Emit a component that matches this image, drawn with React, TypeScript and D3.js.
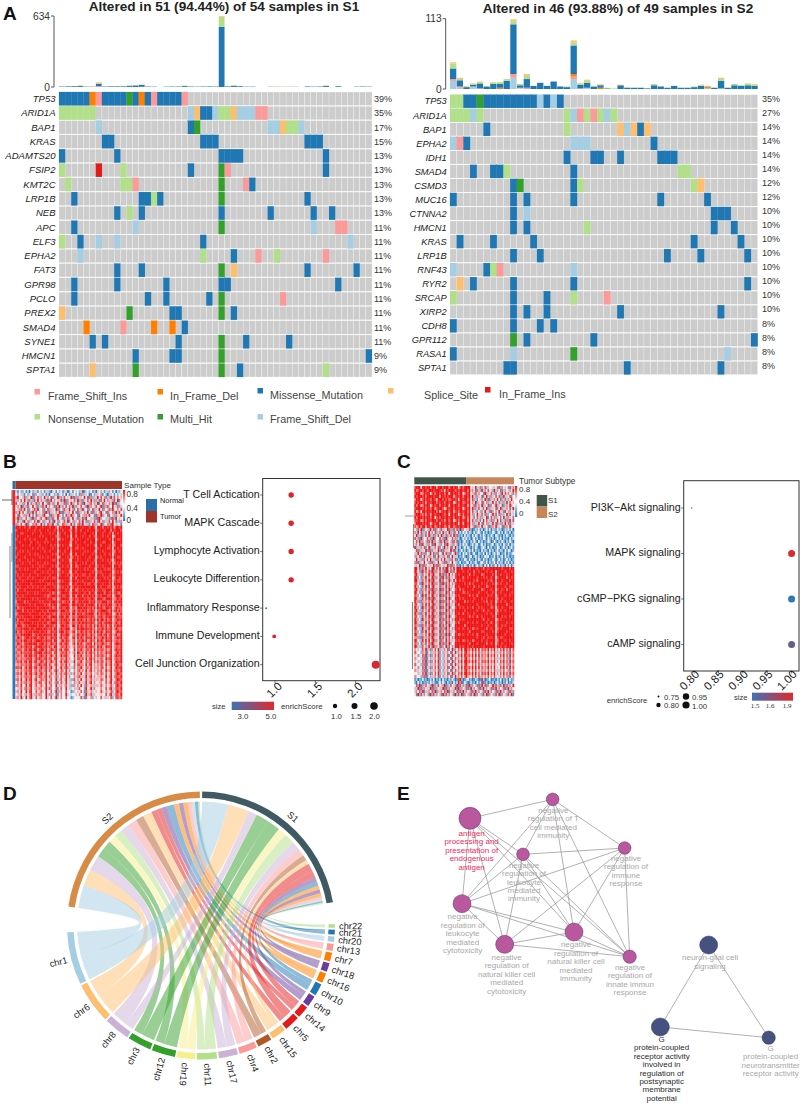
import React from "react";
import * as d3 from "d3";

const FONT = "'Liberation Sans', Arial, sans-serif";

// panel A: oncoprint
const mutColors: Record<string, string> = {
  P: "#fb9a99", O: "#ff7f00", M: "#1f78b4", S: "#fdbf6f",
  R: "#e31a1c", N: "#b2df8a", U: "#33a02c", F: "#a6cee3",
};
const legendRowOne = ["P", "O", "M", "S", "R"];
const legendRowTwo = ["N", "U", "F"];
const legendNames: Record<string, string> = {
  P: "Frame_Shift_Ins", O: "In_Frame_Del", M: "Missense_Mutation", S: "Splice_Site",
  R: "In_Frame_Ins", N: "Nonsense_Mutation", U: "Multi_Hit", F: "Frame_Shift_Del",
};

const s1Genes = ["TP53", "ARID1A", "BAP1", "KRAS", "ADAMTS20", "FSIP2", "KMT2C", "LRP1B", "NEB", "APC", "ELF3", "EPHA2", "FAT3", "GPR98", "PCLO", "PREX2", "SMAD4", "SYNE1", "HMCN1", "SPTA1"];
const s1Pct = ["39%", "35%", "17%", "15%", "13%", "13%", "13%", "13%", "13%", "11%", "11%", "11%", "11%", "11%", "11%", "11%", "11%", "11%", "9%", "9%"];
const s1Muts = [
  "M0-4 O5 P6 M7-10 U11 M12 O13 M14 P15 M16-19 P20",
  "N0-5 F21 S22 M23-24 F25 N26-27 S28 F29-31 P32-33",
  "F6 M21 U22 F34-35 S36 N37-38 F39",
  "M7-8 M23-25 M40-42",
  "M0 M9 M26-29 M43",
  "N0 R6 N10 M21 U26 P27 M43",
  "N1 N10-11 P12 U26 P30 M31",
  "M2 M13-14 N15 M16 U26 M40",
  "M9 N11 M13 M26 M34 M41 M44",
  "M2 F12 U26 F41 P45-46",
  "N0 M3 F6 F9 M23 F47",
  "F3 N23 M28 P32 N35 P43",
  "M9 M13 U26 S28 M40 M48",
  "M2 M9 M17 M26-27 M45",
  "M2 M14 M17 M24 U26 P36",
  "S0 U11 M18-19 U26 M28",
  "O4 P10 O15 O18 M20",
  "M5 M7 M19 U26 M30 M37",
  "M12 M18-19 U26 M50",
  "S5 U12 U26 M29 N43",
];
const s1Missense = [4, 6, 7, 9, 3, 3, 20, 4, 6, 6, 6, 10, 14, 16, 4, 3, 0, 3, 4, 4, 8, 4, 3, 4, 5, 4, 538, 6, 10, 7, 3, 3, 0, 0, 2, 1, 1, 1, 1, 0, 5, 3, 4, 8, 0, 7, 0, 0, 3, 4, 3];
const s1Nonsense = [1, 2, 1, 3, 1, 1, 8, 1, 2, 2, 1, 2, 3, 3, 1, 1, 0, 1, 1, 1, 3, 1, 1, 1, 2, 1, 89, 2, 3, 1, 1, 1, 0, 0, 1, 2, 1, 1, 2, 0, 1, 1, 1, 3, 0, 1, 0, 0, 1, 1, 1];
const s1FsIns = [0, 0, 0, 1, 0, 0, 8, 0, 0, 0, 0, 1, 0, 2, 0, 0, 0, 0, 0, 0, 0, 0, 0, 0, 0, 0, 0, 0, 1, 0, 0, 0, 0, 0, 0, 0, 0, 0, 0, 0, 0, 0, 0, 1, 0, 0, 0, 0, 0, 0, 0];
const s1Splice = [0, 0, 0, 1, 0, 0, 6, 0, 0, 0, 0, 0, 1, 1, 0, 0, 0, 0, 0, 0, 1, 0, 0, 0, 0, 0, 7, 1, 2, 0, 0, 0, 0, 0, 0, 2, 1, 2, 1, 0, 0, 0, 0, 3, 0, 0, 0, 0, 0, 0, 0];

const s2Genes = ["TP53", "ARID1A", "BAP1", "EPHA2", "IDH1", "SMAD4", "CSMD3", "MUC16", "CTNNA2", "HMCN1", "KRAS", "LRP1B", "RNF43", "RYR2", "SRCAP", "XIRP2", "CDH8", "GPR112", "RASA1", "SPTA1"];
const s2Pct = ["35%", "27%", "14%", "14%", "14%", "14%", "12%", "12%", "10%", "10%", "10%", "10%", "10%", "10%", "10%", "10%", "8%", "8%", "8%", "8%"];
const s2Muts = [
  "N0-1 M2-3 U4 M5-12 F13 M14 F15 M16",
  "N0-2 F3 N4 N17 F18 P19 N20 P21 N22 F23 N24",
  "M5 N17 S25 F26 S27 M28 S29",
  "F0 P1 M2 F18-20 M30",
  "M17 M21-22 M25 M31-33",
  "M3 M6-7 N8 M18 N34-35",
  "M9 U10 M18 N19 N36 S37",
  "M0 M9 M11 M18 M31 M38",
  "M9 F11 M39 M40-41",
  "M9 M11 N20 M39 M42",
  "M1 M6 M12 M36 M43",
  "M9 M13 M32 M37 M44",
  "F0 M5 N6 P7 F18",
  "S1 M3 M9 M18 M44",
  "N0 M9 M14 N18 P23",
  "M9 M11 M14 M25 M40",
  "M0 M9 M13 M15",
  "U9 M11 M21 M45",
  "M0 F9 U18 F41",
  "M8-9 M26 M40",
];
const s2FsDel = [13, 2, 0, 4, 0, 0, 0, 0, 0, 18, 1, 0, 0, 0, 0, 0, 0, 0, 16, 0, 2, 0, 0, 0, 0, 0, 0, 0, 0, 0, 0, 0, 0, 0, 0, 0, 0, 0, 0, 0, 1, 0, 0, 0, 0, 0];
const s2FsIns = [3, 2, 0, 0, 1, 0, 0, 0, 0, 6, 1, 2, 0, 0, 0, 0, 0, 0, 4, 1, 0, 0, 0, 0, 0, 0, 0, 0, 0, 0, 0, 0, 0, 0, 0, 0, 0, 0, 1, 0, 0, 0, 0, 0, 0, 0];
const s2InDel = [0, 0, 0, 0, 0, 0, 0, 2, 0, 0, 0, 0, 0, 0, 0, 0, 0, 0, 4, 0, 0, 0, 2, 0, 0, 0, 0, 0, 0, 0, 0, 0, 0, 0, 0, 0, 0, 0, 2, 0, 0, 0, 0, 0, 0, 0];
const s2Missense = [17, 10, 3, 3, 8, 4, 8, 6, 13, 80, 4, 14, 5, 10, 5, 12, 4, 3, 46, 6, 8, 4, 4, 1, 0, 6, 2, 2, 2, 1, 6, 4, 2, 5, 2, 2, 3, 5, 1, 2, 12, 2, 6, 5, 6, 5];
const s2Nonsense = [8, 2, 1, 1, 2, 1, 2, 3, 3, 5, 2, 5, 0, 0, 0, 0, 0, 1, 5, 2, 3, 1, 1, 1, 1, 0, 1, 0, 0, 0, 2, 0, 0, 0, 0, 0, 1, 1, 0, 0, 3, 0, 2, 1, 2, 2];
const s2Splice = [2, 2, 1, 1, 1, 0, 1, 0, 0, 3, 0, 3, 0, 0, 0, 0, 0, 0, 3, 1, 2, 0, 1, 0, 0, 1, 0, 0, 0, 0, 0, 0, 0, 0, 0, 0, 0, 1, 1, 0, 2, 0, 0, 0, 1, 1];

// panel B / C: heatmap rows, 0 = low (blue), 9 = high (red)
const heatB = [
  "3142251304263152413620351425163024153426013524160352413625140325",
  "4253614235172436251304526134250416352417263501426357142036415243",
  "7945382659174862593748165927384659182736495817263948571629384756",
  "6258493716285947361829475638291746583927164859372618495736284915",
  "8536274951638275946183725946381759264837195628473915826473918264",
  "5749162835947162839574618293758416927358461927538469172835946173",
  "4628395174682935714826359174286395714862935174826395174682935748",
  "7395846172938465719283647591826374951826473951826479351864729385",
  "5184627395148263795418263975148269735184627395418269735184627359",
  "6927358461927538469172835946173825946173829546371892546371829465",
  "4836195726483915726483195724683915276483951726483195726384951627",
  "7258469135728649315872946135872649315782946315872649135728946351",
  "9989989979998999899989998598999995996999899989985999799898969989",
  "8999999899989989999899989699899987997998999899996899989997989998",
  "9998899999899998999989899589989996998999989999895999899989699899",
  "9899999899999989899999998689999895997999899989986999899899579999",
  "8999989989989999998999899579899996899899999899995899999989699889",
  "9989999998999899989899999699999986998999989998996999889999589999",
  "9999899989999989999998989589899975999899999899985998999989679998",
  "8999999999899899899999899699999897998899899999996899999889599899",
  "9989899899999999989989999589989996999999989899985999899999679989",
  "9899999989989899999999898699899985997999899999896999989989589999",
  "8999989999999989899899999579999896899899999989995898999999699889",
  "9989999899899999999999889699899975999899999899986999899898589999",
  "9999899989999899989899999589999986998999898999895999999989679898",
  "8899999999899989899999898699899895997899999989996899899999599989",
  "9989989899999899999989999579999986999899989899985999989889689999",
  "8999999999989999899899899689899975998999999999896898999999579898",
  "9899899989999899999989999589999896899899889989995999899989689999",
  "9989999899899999989899889699999985997999999899986999989899579989",
  "8999899999999989899999999579899986999899899999895899999989689889",
  "9899999998999999999889899689999975998999989889986999899989599999",
  "8989999899899899989999989579899896899899999999995998999889679898",
  "9799989999999999899899999689998985997899899899896899889999589999",
  "8999999899989899999989789579999976999899989979985999979989689879",
  "9899899999999999989789999689889985996999799899896898999889579998",
  "8989999999899899999899879579999976898899989889985999879999678989",
  "7999979899999989899989999689789895997899899979896888999789589899",
  "8899999989989999989879899479999976998989979899985979889899678979",
  "9789899999999899999989789589889985886999899889796989879989579888",
  "8999799899899999899799999679998976897898989789885889999879689798",
  "7899999989999989989989879479889895996989789899976979889989568979",
  "8989899999899999899879999589979976887899989889885889879899679888",
  "9799989899999989989989789679899885996989879789796979979789578989",
  "8898899999899899899789999479889976887898989889885889789899679879",
  "7999789899999899979989879569989875996979879789696979879689588989",
  "8889899989989999899889799479889985786989989889785888979789679878",
  "9789789899899989989779889589979876895879879789696979869889568989",
  "8879899999789899899889799469889975786988979779785889789689679779",
  "7988689989899789979779889579789865895979869889696878979789478989",
  "8879799889789999889889699468979875785888979679785979869889678879",
  "7988689899899789979779879579789864795979768889596878978679479989",
  "8779789889689899889788699468879775685888869789785979769889578879",
  "7888689799799689979679879579689864594879768879496878868679479889",
  "8769788889689899789788589468879675685987859689685868769789568979",
  "7878689799789689879679769569789764494879668779486878868579479889",
  "8768778889679798789688589358769675584887859589685768759789578879",
  "7879689699689679869679769469689763394779658779486868858679469889",
  "6768778789578798789587579358769574585887749589575768759679578978",
  "8879579699689679779679659469679763384779648769476758848569469889",
  "6758678789578688679587579258759574474786749579575768659679478879",
  "7869579689679679769568659368679662384769538668466758748569468988",
  "6748678779568688679487468258659474573786639579475667659579478879",
  "7859569689579568769568559368569562284759538668366658748469358988",
  "5748678679568688569487468158659463573685639479475567558579478879",
  "7759459589468568659468549367568562274749428657366648647468358978",
  "5638578679467677569387458158549463463685529469375557558479368879",
  "6749459589458568649458439267458451264648418657356548647358258978",
  "5638467579367677459377348157549353453574529368365456548479368869",
  "6749359479358467549348439257448451254548318547256448536358258878",
];
const heatC = [
  "8999599899799969998999799899589799994659361748264536518274651837",
  "9789989979998999979598999979899899793748162937485629374816253749",
  "8999679899589799899799599899799579894628374519264837156294837561",
  "9899989799998999699898999689899799895937264815937264851729364815",
  "7999589899799869998989789989599899794826153749281637495826137495",
  "8989989699899979899799899579899789895739264815726394851627394856",
  "9799679899589899799899699899799899694618375926481753926481375924",
  "8999989799799689998579899799899589895927384615927364815926374859",
  "9689599899899979689899799689799899794836152749361825749361852743",
  "8999879699699899999799599899589799895724963851724693851762493856",
  "9799989899799589799899899799899689794615837264915837264159372641",
  "8899679799899979989699799579799899695837261494836172594836172958",
  "7999989899589899699899899899599699894726395184726395816273958163",
  "8689799699799789899789699789899899795618274936518274963518274935",
  "5283917462938175283649172838291746382013241302415032142301325140",
  "7394826159374826159374926174031524132041352041302143025130421302",
  "4926173849261738492617384928213041320415203142031520431203142031",
  "8371925483719254837192548372301425130241302153042130251403120413",
  "5839274618392746183927461838120341203152041302143015203142031520",
  "3748195627481956274819562742031524102413502413021350241305214032",
  "9263748159263748152937481596130241520314201352041302143025130241",
  "4817365928173659281736592813024130251403120413205130241320415302",
  "6395827143958271439582714392130425130241032150413024153021403125",
  "2748159362748159632748159363021420135024130214350214031250413021",
  "5936271485936271485936271481302153041203152041302143025130241302",
  "7182649537182649537182649532140213503124103521403125041320514031",
  "3649281753649281753649281751203142031502413205140312504132051403",
  "9958283947599385948299483959997999989999899979989999999989999899",
  "9847193848298274837199382849999899899979989999899899599999899989",
  "8936284759389365928283947589899999979989999789999989699899989999",
  "9825173948498274819382836489999799899999899989899899589999979989",
  "9936284859289365928473925949989899999989799999989799699989999899",
  "8847193748398274819283847389999989979899999899899989589899989999",
  "9725284939489365827493836499899999899979989999789999699999899889",
  "8936173848298274918383925489979899999899999789999899589989979999",
  "9847284759389263827492847399999789899999989999899989699899999989",
  "8725193948498374918283836489899999979899799999989899589999899899",
  "9836284839289265827493925499989899999989999899899999679989999999",
  "9727173748398374918283847389999979899899999989799899589899899989",
  "8846284959489263827492836499799999999999899999989899699999979999",
  "9725193848298374918383925489989899899799989899999789589989999889",
  "8936284739389265827492847399999989999999899979989999679899899999",
  "9727173948498374918283836499899799899989999999899899589999999989",
  "8846284849289263817493925489999999979899799899999989699989899899",
  "9725193738398365928283847399989899999999999979989999579899999999",
  "9836274959489274817492836489799999899899899999899799689999989989",
  "8727183848298365928383925499999979999999999899989999589989899999",
  "9846294739389274817293847399899899899789899999799899679899999889",
  "8725183948498365928483836489999999979999999889999989589999989999",
  "9836274849289274817292925499789899899899799999899999699999899989",
  "7727183738398365928383847399999999999999899979989899589889999999",
  "9846294959489274817493836489899789899789999899899999679999899899",
  "8725173848298365928283925499999999979999899999799899589989999989",
  "9836284739389274817492847399989899899899999989999999699899899999",
  "7465384926174859263748159274869599786969594878695869474869583948",
  "8354273815263748152637481593758489675858483767584758363758472837",
  "6473482926174859263748159264869598786959594867695869474869483958",
  "7354371815263748152637481583758489675848483767584758363758472847",
  "6463582926174859263748159274869599786969584878695869474869583938",
  "8354271815263748152637481593758489665858483757584758353758472847",
  "6473482936174859263748159264859598786959594867695859464869483958",
  "7364371815263748152637481583758489675848473767584748363758462847",
  "5463582926174859263748159274869599786959584878695869474859583938",
  "7354271815263748152637481593758479665858483757584758353758472847",
  "1302141201314021304120314201892013412013201930124012031402130412",
  "2041302131423102415203120413970142013120413081302130241302140213",
  "4829173846291738562917384629183738192746182938174692837169283749",
  "6391827463918274639182746391927461829374618293746182937461829374",
  "3748291637482916374829163748182937461829374618293746182937461827",
  "5192837461928374619283746192839174628391746283917462839174628391",
];

// panel B / C: enrichment dots
const bTerms = ["T Cell Actication", "MAPK Cascade", "Lymphocyte Activation", "Leukocyte Differention", "Inflammatory Response", "Immune Development", "Cell Junction Organization"];
const bEnrich = [1.2, 1.2, 1.2, 1.2, 0.89, 0.99, 2.25];
const bSize = [5, 5, 5, 5, 2.6, 5, 4.9];
const bTicks = [1.0, 1.5, 2.0];
const cTerms = ["PI3K\u2212Akt signaling", "MAPK signaling", "cGMP\u2212PKG signaling", "cAMP signaling"];
const cEnrich = [0.795, 1, 1, 1];
const cSize = [1.7, 1.9, 1.5, 1.62];
const cTicks = [0.8, 0.85, 0.9, 0.95, 1.0];

// panel D: chord, clockwise from chr22 to chr1
const chrNames = ["chr22", "chr21", "chr20", "chr13", "chr7", "chr18", "chr16", "chr10", "chr9", "chr14", "chr5", "chr15", "chr2", "chr4", "chr17", "chr11", "chr19", "chr12", "chr3", "chr8", "chr6", "chr1"];
const chrColors = ["#b2df8a", "#1f78b4", "#a6cee3", "#fb9a99", "#ff7f00", "#6a3d9a", "#ff7f00", "#1f78b4", "#6a3d9a", "#e31a1c", "#e31a1c", "#fdbf6f", "#b15928", "#fb9a99", "#cab2d6", "#b2df8a", "#f5f08a", "#33a02c", "#33a02c", "#cab2d6", "#fdbf6f", "#a6cee3"];
const linksS1 = [0.7, 0.6, 1, 1.2, 1.6, 1.8, 1.8, 2, 2, 3, 4, 2, 2.5, 3.5, 4, 5, 4, 6, 6, 4, 10, 12];
const linksS2 = [0.8, 1.5, 1.4, 1.8, 2.2, 2, 2.4, 3.2, 2.7, 2.2, 2.7, 4.2, 3.7, 4.2, 4.2, 3.7, 3.7, 4.2, 4.2, 7.2, 7.7, 10.7];

// panel E: network, positions in the picture's own units
const netLabels = [
  ["antigen", "processing and", "presentation of", "endogenous", "antigen"],
  ["negative", "regulation of T", "cell mediated", "immunity"],
  ["negative", "regulation of", "leukocyte", "mediated", "immunity"],
  ["negative", "regulation of", "immune", "response"],
  ["negative", "regulation of", "leukocyte", "mediated", "cytotoxicity"],
  ["negative", "regulation of", "natural killer cell", "mediated", "immunity"],
  ["negative", "regulation of", "natural killer cell", "mediated", "cytotoxicity"],
  ["negative", "regulation of", "innate immun", "response"],
  ["neuron-glial cell", "signaling"],
  ["G", "protein-coupled", "receptor activity", "involved in", "regulation of", "postsynaptic", "membrane", "potential"],
  ["G", "protein-coupled", "neurotransmitter", "receptor activity"],
];
const netX = [210, 458, 369, 674, 186, 522, 314, 689, 926, 781, 1106];
const netY = [145, 88, 253, 234, 401, 486, 523, 560, 525, 771, 803];
const netSize = [33, 19, 19, 19, 27, 27, 27, 20, 27, 27, 20];
const netLabelX = [215, 460, 372, 678, 188, 528, 320, 690, 930, 785, 1112];
const netLabelY = [190, 120, 285, 265, 440, 524, 562, 592, 563, 808, 835];
const netEdges = [[0, 1], [0, 2], [0, 4], [0, 5], [0, 6], [0, 7], [1, 2], [1, 3], [1, 4], [1, 5], [1, 7], [2, 3], [2, 4], [2, 5], [2, 6], [2, 7], [3, 4], [3, 5], [3, 6], [3, 7], [4, 5], [4, 6], [4, 7], [5, 6], [5, 7], [6, 7], [8, 9], [8, 10], [9, 10]];

function parseMuts(spec: string) {
  const out: { col: number; code: string }[] = [];
  spec.split(" ").forEach((part) => {
    const code = part[0];
    const [a, b] = part.slice(1).split("-").map(Number);
    d3.range(a, (b ?? a) + 1).forEach((col) => out.push({ col, code }));
  });
  return out;
}

function Oncoprint({ x0, x1, top, bottom, genes, pct, muts, nCols, labelX, pctX, pctDy, geneSize }: any) {
  const x = d3.scaleBand<number>().domain(d3.range(nCols)).range([x0, x1]);
  const y = d3.scaleBand<number>().domain(d3.range(genes.length)).range([top, bottom]).paddingInner(0.06);
  return (
    <g>
      {genes.map((g: string, i: number) => (
        <g key={g}>
          {d3.range(nCols).map((c) => (
            <rect key={c} x={x(c)} y={y(i)} width={x.bandwidth()} height={y.bandwidth()} fill="#cccccc" stroke="#fff" strokeWidth={0.25} />
          ))}
          {parseMuts(muts[i]).map((m) => (
            <rect key={m.col} x={x(m.col)} y={y(i)} width={x.bandwidth()} height={y.bandwidth()} fill={mutColors[m.code]} stroke={mutColors[m.code]} strokeWidth={0.2} />
          ))}
          <text x={labelX} y={y(i)! + y.bandwidth() / 2 + 3.2} textAnchor="end" fontStyle="italic" fontSize={geneSize} fill="#222">{g}</text>
          <text x={pctX} y={y(i)! + y.bandwidth() / 2 + 3.2 + pctDy} fontSize={9} fill="#333">{pct[i]}</text>
        </g>
      ))}
    </g>
  );
}

function TmbBars({ x0, x1, yTop, yBase, axisX, maxVal, nCols, series }: any) {
  const x = d3.scaleBand<number>().domain(d3.range(nCols)).range([x0, x1]).paddingInner(0.06);
  const y = d3.scaleLinear().domain([0, maxVal]).range([yBase, yTop]);
  const keys = Object.keys(series);
  const table = d3.range(nCols).map((i) => {
    const row: any = { i };
    keys.forEach((k) => (row[k] = series[k][i]));
    return row;
  });
  const stacked = d3.stack().keys(keys)(table);
  return (
    <g>
      {stacked.map((layer) => (
        <g key={layer.key} fill={mutColors[layer.key]}>
          {layer.map((d, i) => (
            <rect key={i} x={x(i)} y={y(d[1])} width={x.bandwidth()} height={Math.max(0, y(d[0]) - y(d[1]))} />
          ))}
        </g>
      ))}
      <path d={`M${axisX - 3},${y(maxVal)}H${axisX}V${y(0)}H${axisX - 3}`} fill="none" stroke="#555" strokeWidth={1} />
      {[maxVal, 0].map((t) => (
        <text key={t} x={axisX - 4} y={y(t) + 3.6} textAnchor="end" fontSize={10.2} fill="#333">{t}</text>
      ))}
    </g>
  );
}

function Heatmap({ rows, x0, x1, y0, y1, color }: any) {
  const x = d3.scaleBand<number>().domain(d3.range(rows[0].length)).range([x0, x1]);
  const y = d3.scaleBand<number>().domain(d3.range(rows.length)).range([y0, y1]);
  return (
    <g>
      {rows.map((row: string, r: number) =>
        Array.from(row).map((ch, c) => (
          <rect key={`${r}-${c}`} x={x(c)} y={y(r)} width={x.bandwidth() + 0.25} height={y.bandwidth() + 0.25} fill={color(+ch)} />
        ))
      )}
    </g>
  );
}

function DotPlot({ terms, values, sizes, ticks, frame, domain, color, radius, tickShift, labelSize, tickSize }: any) {
  const x = d3.scaleLinear().domain(domain).range([frame.x0, frame.x1]);
  const y = d3.scalePoint<number>().domain(d3.range(terms.length)).range([frame.yFirst, frame.yLast]);
  return (
    <g>
      <rect x={frame.x0} y={frame.y0} width={frame.x1 - frame.x0} height={frame.y1 - frame.y0} fill="#fff" stroke="#333" strokeWidth={1} />
      {terms.map((t: string, i: number) => (
        <g key={t}>
          <line x1={frame.x0 - 2.5} x2={frame.x0} y1={y(i)} y2={y(i)} stroke="#333" strokeWidth={0.7} />
          <text x={frame.x0 - 3} y={y(i)! + 2.6} textAnchor="end" fontSize={labelSize} fill="#222">{t}</text>
          <circle cx={x(values[i])} cy={y(i)} r={radius(values[i])} fill={color(sizes[i])} />
        </g>
      ))}
      {ticks.map((t: number) => (
        <g key={t}>
          <line x1={x(t)} x2={x(t)} y1={frame.y1} y2={frame.y1 + 2.5} stroke="#333" strokeWidth={0.7} />
          <text textAnchor="middle" fontSize={tickSize} fill="#222" transform={`translate(${x(t) + tickShift},${frame.y1 + 12}) rotate(-45)`}>
            {ticks.length > 3 ? t.toFixed(2) : t.toFixed(1)}
          </text>
        </g>
      ))}
    </g>
  );
}

function Chord() {
  const total = chrNames.map((_, i) => linksS1[i] + linksS2[i]);
  const gapChr = 0.8, gapTop = 1, gapRight = 9.5, gapLeft = 11;
  const gaps = gapChr * 21 + gapTop + gapRight + gapLeft;
  const unit = (360 - gaps) / (2 * d3.sum(total));
  const rad = (deg: number) => (deg * Math.PI) / 180;
  const sumS1 = d3.sum(linksS1), sumS2 = d3.sum(linksS2);
  const s1Start = gapTop / 2;
  const s1End = s1Start + sumS1 * unit;
  const chrStart = s1End + gapRight;
  const s2Start = chrStart + d3.sum(total) * unit + gapChr * 21 + gapLeft;
  const s2End = s2Start + sumS2 * unit;
  const arc = d3.arc<any>().innerRadius(127.5).outerRadius(134);
  const ribbon = d3.ribbon<any, any>().radius(124);

  // order on the two sample arcs runs chr1 first, chr22 last
  const order = d3.range(chrNames.length).reverse();
  const s1Pos: Record<number, number> = {};
  const s2Pos: Record<number, number> = {};
  let a1 = s1Start, a2 = s2Start;
  order.forEach((i) => {
    s1Pos[i] = a1; a1 += linksS1[i] * unit;
    s2Pos[i] = a2; a2 += linksS2[i] * unit;
  });

  let cur = chrStart;
  const sectors = chrNames.map((name, i) => {
    const start = cur;
    const split = start + linksS1[i] * unit;
    const end = split + linksS2[i] * unit;
    cur = end + gapChr;
    return { name, i, start, split, end };
  });

  return (
    <g transform="translate(201,925.5)">
      {sectors.map((s) => (
        <g key={s.name} fill={chrColors[s.i]} fillOpacity={0.5}>
          <path d={ribbon({
            source: { startAngle: rad(s.start), endAngle: rad(s.split) },
            target: { startAngle: rad(s1Pos[s.i]), endAngle: rad(s1Pos[s.i] + linksS1[s.i] * unit) },
          }) as unknown as string} />
          <path d={ribbon({
            source: { startAngle: rad(s.split), endAngle: rad(s.end) },
            target: { startAngle: rad(s2Pos[s.i]), endAngle: rad(s2Pos[s.i] + linksS2[s.i] * unit) },
          }) as unknown as string} />
        </g>
      ))}
      <path d={arc({ startAngle: rad(s1Start), endAngle: rad(s1End) })!} fill="#3f5a63" />
      <path d={arc({ startAngle: rad(s2Start), endAngle: rad(s2End) })!} fill="#d78b45" />
      <text transform={`rotate(${(s1Start + s1End) / 2}) translate(0,-139)`} textAnchor="middle" fontSize={9.3} fill="#222">S1</text>
      <text transform={`rotate(${(s2Start + s2End) / 2}) translate(0,-139)`} textAnchor="middle" fontSize={9.3} fill="#222">S2</text>
      {sectors.map((s) => {
        const mid = (s.start + s.end) / 2;
        const flip = mid >= 192;
        return (
          <g key={s.name}>
            <path d={arc({ startAngle: rad(s.start), endAngle: rad(s.end) })!} fill={chrColors[s.i]} />
            <text
              transform={`rotate(${mid - 90}) translate(138,0)${flip ? " rotate(180)" : ""}`}
              textAnchor={flip ? "end" : "start"}
              dy="0.35em"
              fontSize={9.3}
              fill="#222"
            >
              {s.name}
            </text>
          </g>
        );
      })}
    </g>
  );
}

function Network() {
  // one picture unit is a third of a pixel
  const x = d3.scaleLinear().domain([0, 403]).range([400, 400 + 403 / 3]);
  const y = d3.scaleLinear().domain([0, 334]).range([770, 770 + 334 / 3]);
  const labelColor = (i: number) => (i === 0 ? "#f0285a" : i === 9 ? "#2a2a2a" : "#a8a8a8");
  return (
    <g>
      {netEdges.map(([a, b]) => (
        <line key={`${a}-${b}`} x1={x(netX[a])} y1={y(netY[a])} x2={x(netX[b])} y2={y(netY[b])} stroke="#8f8f8f" strokeWidth={0.7} />
      ))}
      {netX.map((_, i) => (
        <circle key={i} cx={x(netX[i])} cy={y(netY[i])} r={netSize[i] / 3} fill={i < 8 ? "#b9579f" : "#45527f"} stroke={i < 8 ? "#5f2c5e" : "#2d3659"} strokeWidth={0.5} />
      ))}
      {netLabels.map((lines, i) =>
        lines.map((line, k) => (
          <text key={`${i}-${k}`} x={x(netLabelX[i])} y={y(netLabelY[i]) + k * 8.35 + 2.8} textAnchor="middle" fontSize={8} fill={labelColor(i)}>{line}</text>
        ))
      )}
    </g>
  );
}

export default function App() {
  const heatColor = d3.scaleLinear<string>().domain([0, 4.5, 9]).range(["#2a7ab8", "#ffffff", "#f01414"]);
  const bDotColor = d3.scaleLinear<string>().domain([2.6, 5]).range(["#3079bd", "#e0232a"]);
  const cDotColor = d3.scaleLinear<string>().domain([1.5, 1.9]).range(["#2f79b5", "#dc2a2e"]);
  const bRadius = d3.scaleLinear().domain([0.89, 1, 1.2, 2.25]).range([1, 2, 2.7, 4]);
  const cRadius = d3.scaleLinear().domain([0.795, 1]).range([0.7, 3.5]);

  return (
    <svg width={803} height={1104} style={{ position: "absolute", left: 0, top: 0, fontFamily: FONT }}>
      <defs>
        <linearGradient id="bar-heat" x1="0" x2="0" y1="0" y2="1">
          <stop offset="0" stopColor="#f01414" />
          <stop offset="0.5" stopColor="#ffffff" />
          <stop offset="1" stopColor="#2a7ab8" />
        </linearGradient>
        <linearGradient id="bar-size">
          <stop offset="0" stopColor="#4272b4" />
          <stop offset="1" stopColor="#dc2a2e" />
        </linearGradient>
      </defs>
      <rect width={803} height={1104} fill="#fff" />

      {/* A */}
      <text x={3} y={20} fontSize={19} fontWeight="bold" fill="#111">A</text>
      <text x={224} y={11} textAnchor="middle" fontSize={13.6} fontWeight="bold" fill="#222">Altered in 51 (94.44%) of 54 samples in S1</text>
      <text x={618} y={13} textAnchor="middle" fontSize={13.6} fontWeight="bold" fill="#222">Altered in 46 (93.88%) of 49 samples in S2</text>
      <TmbBars x0={59} x1={372} yTop={16} yBase={87} axisX={54} maxVal={634} nCols={51}
        series={{ P: s1FsIns, M: s1Missense, N: s1Nonsense, S: s1Splice }} />
      <TmbBars x0={450} x1={757.7} yTop={18.7} yBase={89} axisX={445.7} maxVal={113} nCols={46}
        series={{ F: s2FsDel, P: s2FsIns, O: s2InDel, M: s2Missense, N: s2Nonsense, S: s2Splice }} />
      <Oncoprint x0={59} x1={372} top={92} bottom={377} genes={s1Genes} pct={s1Pct} muts={s1Muts} nCols={51} labelX={55.5} pctX={374} pctDy={0} geneSize={9.5} />
      <Oncoprint x0={450} x1={757.7} top={94.7} bottom={374.5} genes={s2Genes} pct={s2Pct} muts={s2Muts} nCols={46} labelX={446.7} pctX={762} pctDy={-2.5} geneSize={9.3} />
      {legendRowOne.map((k, i) => (
        <g key={k}>
          <rect x={[34.5, 157.5, 257.5, 388, 485][i]} y={[389, 389, 388, 388, 387][i]} width={5.5} height={5.5} fill={mutColors[k]} />
          <text x={[48, 170, 270, 424, 499][i]} y={[400, 400, 399, 399, 398][i]} fontSize={10.8} fill="#444">{legendNames[k]}</text>
        </g>
      ))}
      {legendRowTwo.map((k, i) => (
        <g key={k}>
          <rect x={[34.5, 157.5, 257.5][i]} y={414} width={5.5} height={5.5} fill={mutColors[k]} />
          <text x={[48, 170, 270][i]} y={423} fontSize={10.8} fill="#444">{legendNames[k]}</text>
        </g>
      ))}

      {/* B */}
      <text x={3} y={468} fontSize={19} fontWeight="bold" fill="#111">B</text>
      <rect x={12.5} y={481} width={3} height={8} fill="#2a6fa8" />
      <rect x={15.5} y={481} width={106.5} height={8} fill="#a0342a" />
      <rect x={12.5} y={490} width={3} height={35} fill="#e8262c" />
      <rect x={12.5} y={525} width={3} height={174} fill="#2a7ab8" />
      <Heatmap rows={heatB} x0={15.5} x1={122} y0={490} y1={699} color={heatColor} />
      <path d="M2,500H12M12,490V505" fill="none" stroke="#444" strokeWidth={0.8} />
      <path d="M12,533V562M10,546V618" fill="none" stroke="#888" strokeWidth={1} />
      <rect x={123} y={490} width={2.2} height={31} fill="url(#bar-heat)" />
      <text x={124} y={488} fontSize={8.1} fill="#333">Sample Type</text>
      {["0.8", "0.4", "0"].map((t, i) => (
        <text key={t} x={126.5} y={[497, 510.5, 523][i]} fontSize={8.2} fill="#333">{t}</text>
      ))}
      <rect x={146} y={499} width={11} height={12} fill="#2a6fa8" />
      <rect x={146} y={511} width={11} height={11.5} fill="#a0342a" />
      <text x={160} y={503} fontSize={7.4} fill="#222">Normal</text>
      <text x={160} y={519} fontSize={7.4} fill="#222">Tumor</text>
      <DotPlot terms={bTerms} values={bEnrich} sizes={bSize} ticks={bTicks}
        frame={{ x0: 262.7, x1: 380, y0: 478.5, y1: 680.7, yFirst: 495, yLast: 664.7 }}
        domain={[0.847, 2.303]} color={bDotColor} radius={bRadius} tickShift={2} labelSize={10.7} tickSize={11.5} />
      <text x={212} y={709} fontSize={7.6} fill="#333">size</text>
      <rect x={231.7} y={701.7} width={42.3} height={8.3} fill="url(#bar-size)" />
      <text x={243} y={719} textAnchor="middle" fontSize={7.8} fill="#333">3.0</text>
      <text x={271} y={719} textAnchor="middle" fontSize={7.8} fill="#333">5.0</text>
      <text x={281} y={709} fontSize={7.8} fill="#333">enrichScore</text>
      {[2.2, 3, 3.8].map((r, i) => (
        <g key={r}>
          <circle cx={[335, 354.5, 374][i]} cy={706} r={r} fill="#111" />
          <text x={[336.5, 356, 374.5][i]} y={718.5} textAnchor="middle" fontSize={7.8} fill="#333">{["1.0", "1.5", "2.0"][i]}</text>
        </g>
      ))}

      {/* C */}
      <text x={397} y={468} fontSize={19} fontWeight="bold" fill="#111">C</text>
      <rect x={414.3} y={477.3} width={52.2} height={7} fill="#3f5547" />
      <rect x={466.5} y={477.3} width={47.5} height={7} fill="#c4865a" />
      <Heatmap rows={heatC} x0={414.3} x1={514} y0={486} y1={696} color={heatColor} />
      <path d="M405,516H414" fill="none" stroke="#888" strokeWidth={0.8} />
      <path d="M413.5,524V548M412.5,602V669" fill="none" stroke="#888" strokeWidth={1.2} />
      <rect x={515} y={486} width={2.2} height={31} fill="url(#bar-heat)" />
      <text x={519} y={484} fontSize={8.3} fill="#333">Tumor Subtype</text>
      {["0.8", "0.4", "0"].map((t, i) => (
        <text key={t} x={519} y={[492, 503.5, 516][i]} fontSize={8} fill="#333">{t}</text>
      ))}
      <rect x={536.7} y={495} width={10.5} height={11.5} fill="#3f5547" />
      <rect x={536.7} y={506.5} width={10.5} height={11.5} fill="#c4865a" />
      <text x={548} y={503} fontSize={8} fill="#333">S1</text>
      <text x={548} y={517} fontSize={8} fill="#333">S2</text>
      <DotPlot terms={cTerms} values={cEnrich} sizes={cSize} ticks={cTicks}
        frame={{ x0: 683.7, x1: 799, y0: 480.7, y1: 671, yFirst: 508, yLast: 644.5 }}
        domain={[0.7785, 1.0152]} color={cDotColor} radius={cRadius} tickShift={-2} labelSize={10.7} tickSize={11.5} />
      <text x={606.7} y={703} fontSize={7.6} fill="#333">enrichScore</text>
      {[1, 2.2, 3.2, 3.6].map((r, i) => (
        <g key={r}>
          <circle cx={[658.5, 658.5, 686, 686][i]} cy={[696.5, 705, 696.5, 705][i]} r={r} fill="#111" />
          <text x={[664, 664, 692, 692][i]} y={[699.5, 708, 699.5, 708.5][i]} fontSize={7.8} fill="#333">{["0.75", "0.80", "0.95", "1.00"][i]}</text>
        </g>
      ))}
      <text x={734} y={700} fontSize={7.6} fill="#333">size</text>
      <rect x={752} y={692.7} width={41} height={8} fill="url(#bar-size)" />
      {["1.5", "1.6", "1.9"].map((t, i) => (
        <text key={t} x={[755, 770, 787][i]} y={708} textAnchor="middle" fontSize={7} fontFamily="'Liberation Serif', serif" fill="#333">{t}</text>
      ))}

      {/* D */}
      <text x={3} y={800} fontSize={19} fontWeight="bold" fill="#111">D</text>
      <Chord />

      {/* E */}
      <text x={397} y={800} fontSize={19} fontWeight="bold" fill="#111">E</text>
      <Network />
    </svg>
  );
}
